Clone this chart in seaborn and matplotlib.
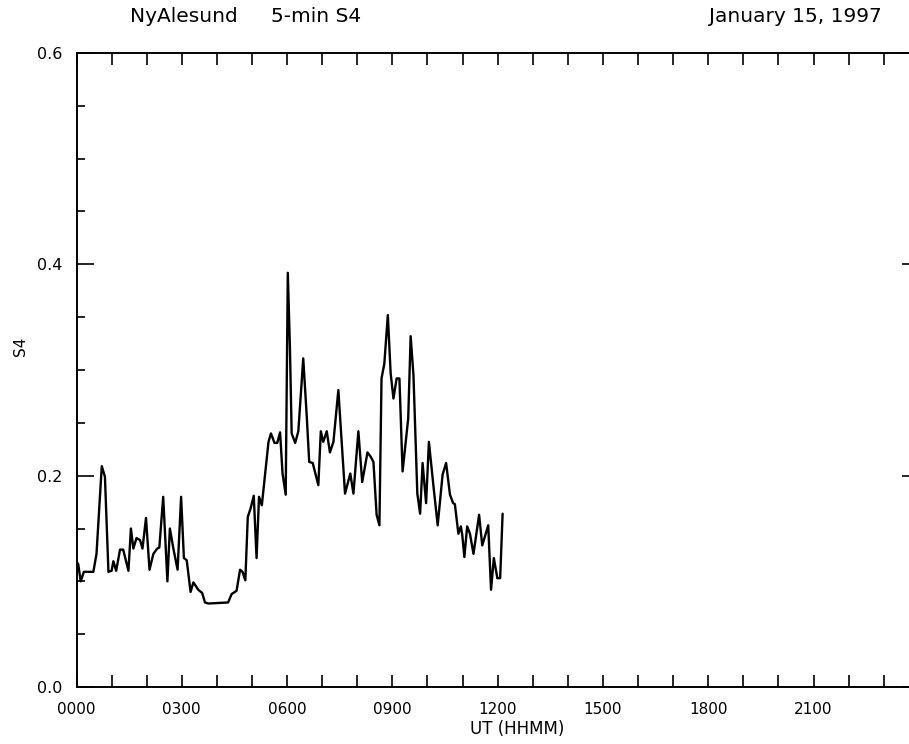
import matplotlib
matplotlib.use("Agg")
import matplotlib.pyplot as plt
from matplotlib.ticker import MultipleLocator
import seaborn as sns
import pandas as pd

# Universal time in hours
ut_hours = [0.00, 0.05, 0.12, 0.21, 0.48, 0.57, 0.72, 0.81, 0.91, 1.00,
            1.05, 1.13, 1.24, 1.33, 1.48, 1.55, 1.62, 1.71, 1.81, 1.88,
            1.98, 2.08, 2.19, 2.30, 2.36, 2.47, 2.59, 2.66, 2.76, 2.88,
            2.98, 3.06, 3.14, 3.25, 3.33, 3.47, 3.58, 3.66, 3.76, 4.32,
            4.42, 4.56, 4.66, 4.73, 4.81, 4.88, 4.96, 5.05, 5.13, 5.20,
            5.28, 5.47, 5.54, 5.64, 5.72, 5.80, 5.87, 5.96, 6.02, 6.08,
            6.13, 6.23, 6.32, 6.46, 6.56, 6.63, 6.73, 6.89, 6.96, 7.03,
            7.13, 7.22, 7.32, 7.46, 7.65, 7.80, 7.89, 8.03, 8.14, 8.29,
            8.38, 8.46, 8.55, 8.63, 8.69, 8.77, 8.87, 8.95, 9.03, 9.12,
            9.20, 9.29, 9.45, 9.52, 9.60, 9.71, 9.79, 9.86, 9.96, 10.04,
            10.17, 10.29, 10.43, 10.53, 10.64, 10.73, 10.78, 10.88, 10.95, 10.99,
            11.05, 11.13, 11.21, 11.31, 11.47, 11.56, 11.73, 11.81, 11.89, 11.99,
            12.07, 12.14]
s4_values = [0.119, 0.116, 0.100, 0.109, 0.109, 0.126, 0.209, 0.199, 0.109, 0.110,
             0.119, 0.110, 0.130, 0.130, 0.110, 0.150, 0.131, 0.141, 0.139, 0.131,
             0.160, 0.111, 0.126, 0.131, 0.132, 0.180, 0.100, 0.150, 0.131, 0.111,
             0.180, 0.122, 0.120, 0.090, 0.099, 0.092, 0.089, 0.080, 0.079, 0.080,
             0.088, 0.091, 0.111, 0.109, 0.101, 0.161, 0.169, 0.181, 0.122, 0.180,
             0.172, 0.232, 0.240, 0.231, 0.231, 0.241, 0.202, 0.182, 0.392, 0.322,
             0.240, 0.231, 0.242, 0.311, 0.256, 0.213, 0.212, 0.191, 0.242, 0.232,
             0.242, 0.222, 0.232, 0.281, 0.183, 0.202, 0.183, 0.242, 0.194, 0.222,
             0.218, 0.213, 0.163, 0.153, 0.292, 0.306, 0.352, 0.297, 0.273, 0.292,
             0.292, 0.204, 0.254, 0.332, 0.295, 0.183, 0.164, 0.212, 0.174, 0.232,
             0.190, 0.153, 0.201, 0.212, 0.182, 0.174, 0.173, 0.145, 0.152, 0.144,
             0.123, 0.152, 0.145, 0.126, 0.163, 0.134, 0.153, 0.092, 0.122, 0.103,
             0.103, 0.164]

x_tick_pos = [0, 3, 6, 9, 12, 15, 18, 21]
x_tick_labels = ["0000", "0300", "0600", "0900", "1200", "1500", "1800", "2100"]
y_tick_pos = [0.0, 0.2, 0.4, 0.6]
y_tick_labels = ["0.0", "0.2", "0.4", "0.6"]

station = "NyAlesund"
quantity = "5-min S4"
date_text = "January 15, 1997"

sns.set_theme(style="white")
plt.rcParams["font.family"] = ["DejaVu Sans"]

df = pd.DataFrame({"UT": ut_hours, "S4": s4_values})

fig = plt.figure(figsize=(9.09, 7.44), dpi=100)
ax = fig.add_axes([76.5 / 909, 57 / 744, 842.4 / 909, 634 / 744])

sns.lineplot(data=df, x="UT", y="S4", ax=ax, color="black", linewidth=1.7,
             estimator=None, sort=False)

ax.set_xlim(0, 24)
ax.set_ylim(0, 0.6)
ax.set_xticks(x_tick_pos, minor=False)
ax.set_xticklabels(x_tick_labels)
ax.xaxis.set_minor_locator(MultipleLocator(1))
ax.set_yticks(y_tick_pos)
ax.set_yticklabels(y_tick_labels)
ax.yaxis.set_minor_locator(MultipleLocator(0.05))

ax.tick_params(axis="x", which="both", direction="in", top=True, bottom=True,
               length=8.6, width=1.2, color="black", labelsize=11, pad=11,
               labelcolor="black")
ax.tick_params(axis="y", which="major", direction="in", left=True, right=True,
               length=12, width=1.2, color="black", labelsize=11.5, pad=10,
               labelcolor="black")
ax.tick_params(axis="y", which="minor", direction="in", left=True, right=True,
               length=5.5, width=1.2, color="black")

for sp in ax.spines.values():
    sp.set_visible(True)
    sp.set_color("black")
    sp.set_linewidth(1.4)

ax.set_xlabel("UT (HHMM)", fontsize=12, color="black")
ax.xaxis.set_label_coords((517 - 76.5) / 842.4, -0.052)
ax.set_ylabel("S4", fontsize=11, color="black")
ax.yaxis.set_label_coords(-0.058, 0.538)

fig.text(183.5 / 909, 1 - 16 / 744, station, ha="center", va="center", fontsize=14.5, color="black")
fig.text(316.5 / 909, 1 - 16 / 744, quantity, ha="center", va="center", fontsize=14.5, color="black")
fig.text(795 / 909, 1 - 16 / 744, date_text, ha="center", va="center", fontsize=14.5, color="black")

fig.savefig("out.png", dpi=100)
